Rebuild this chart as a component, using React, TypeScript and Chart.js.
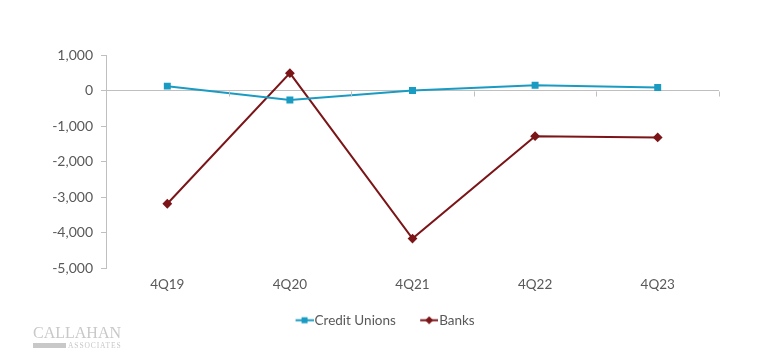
import React, { useEffect, useRef } from "react";
import { Chart, registerables } from "chart.js";

Chart.register(...registerables);

const categories = ["4Q19", "4Q20", "4Q21", "4Q22", "4Q23"];
const creditUnions = [125, -265, 5, 150, 85];
const banks = [-3180, 490, -4160, -1280, -1315];
const yMin = -5000;
const yMax = 1000;
const yStep = 1000;

const CU_COLOR = "#1a9bc2";
const BANK_COLOR = "#7b1518";
const AXIS_COLOR = "#bfbfbf";
const TEXT_COLOR = "#595959";
const FONT = "Lato, 'Noto Sans', sans-serif";

function legendIcon(color: string, style: "rect" | "diamond") {
  const W = 37;
  const c = document.createElement("canvas");
  c.width = W;
  c.height = 9;
  const ctx = c.getContext("2d")!;
  ctx.strokeStyle = color;
  ctx.lineWidth = 2;
  ctx.beginPath();
  ctx.moveTo(W - 18, 4.5);
  ctx.lineTo(W, 4.5);
  ctx.stroke();
  ctx.fillStyle = color;
  const cx = W - 9;
  if (style === "rect") {
    ctx.fillRect(cx - 3, 1.5, 6, 6);
  } else {
    ctx.beginPath();
    ctx.moveTo(cx, 0.5);
    ctx.lineTo(cx + 4, 4.5);
    ctx.lineTo(cx, 8.5);
    ctx.lineTo(cx - 4, 4.5);
    ctx.closePath();
    ctx.fill();
  }
  return c;
}

const zeroTicksPlugin = {
  id: "zeroTicks",
  afterDatasetsDraw(chart: any) {
    const { ctx, scales, chartArea } = chart;
    const x = scales.x;
    const y = scales.y;
    const y0 = Math.round(y.getPixelForValue(0)) + 0.5;
    const n = categories.length;
    const bounds: number[] = [chartArea.left];
    for (let i = 1; i < n; i++) {
      bounds.push((x.getPixelForValue(i - 1) + x.getPixelForValue(i)) / 2);
    }
    bounds.push(chartArea.right);
    ctx.save();
    ctx.strokeStyle = AXIS_COLOR;
    ctx.lineWidth = 1;
    ctx.beginPath();
    for (const b of bounds) {
      const bx = Math.round(b) + 0.5;
      ctx.moveTo(bx, y0);
      ctx.lineTo(bx, y0 + 5);
    }
    ctx.stroke();
    ctx.restore();
  },
};

export default function App() {
  const ref = useRef<HTMLCanvasElement>(null);

  useEffect(() => {
    document.body.style.margin = "0";
    const chart = new Chart(ref.current!, {
      type: "line",
      data: {
        labels: categories,
        datasets: [
          {
            label: "Credit Unions",
            data: creditUnions,
            borderColor: CU_COLOR,
            backgroundColor: CU_COLOR,
            borderWidth: 2,
            pointStyle: "rect",
            pointRadius: 3.5,
            pointHoverRadius: 3.5,
            tension: 0,
          },
          {
            label: "Banks",
            data: banks,
            borderColor: BANK_COLOR,
            backgroundColor: BANK_COLOR,
            borderWidth: 2,
            pointStyle: "rectRot",
            pointRadius: 3.5,
            pointHoverRadius: 3.5,
            tension: 0,
          },
        ],
      },
      options: {
        responsive: false,
        animation: false,
        layout: { padding: { left: 38, right: 49, top: 55, bottom: 19 } },
        plugins: {
          tooltip: { enabled: false },
          legend: {
            position: "bottom",
            labels: {
              usePointStyle: true,
              pointStyleWidth: 25.5,
              color: TEXT_COLOR,
              font: { family: FONT, size: 13.5 },
              padding: 11,
              generateLabels: (chart: any) =>
                chart.data.datasets.map((ds: any, i: number) => ({
                  text: ds.label,
                  pointStyle: legendIcon(ds.borderColor, i === 0 ? "rect" : "diamond"),
                  fontColor: TEXT_COLOR,
                  datasetIndex: i,
                  hidden: false,
                  lineWidth: 0,
                })),
            },
          },
        },
        scales: {
          x: {
            offset: true,
            grid: { display: false },
            border: { display: false },
            ticks: {
              color: TEXT_COLOR,
              font: { family: FONT, size: 13.5 },
              padding: 0,
            },
            afterFit: (s: any) => {
              s.height = 34;
            },
          },
          y: {
            min: yMin,
            max: yMax,
            ticks: {
              stepSize: yStep,
              color: TEXT_COLOR,
              font: { family: FONT, size: 14 },
              padding: 8,
              callback: (v: any) => Number(v).toLocaleString("en-US"),
            },
            grid: {
              drawOnChartArea: true,
              color: (c: any) => (c.tick && c.tick.value === 0 ? AXIS_COLOR : "rgba(0,0,0,0)"),
              tickColor: AXIS_COLOR,
              tickLength: 5,
            },
            border: { display: true, color: AXIS_COLOR },
            afterFit: (s: any) => {
              s.width = 68;
            },
          },
        },
      },
      plugins: [zeroTicksPlugin],
    });
    return () => chart.destroy();
  }, []);

  return (
    <div style={{ position: "relative", width: 768, height: 356, background: "#fff" }}>
      <canvas ref={ref} width={768} height={356} style={{ display: "block" }} />
      <div style={{ position: "absolute", left: 33, top: 325, width: 95 }}>
        <div
          style={{
            fontFamily: "'Liberation Serif', 'DejaVu Serif', serif",
            fontSize: 16,
            lineHeight: "16px",
            color: "#c8c8c8",
            letterSpacing: 0,
          }}
        >
          CALLAHAN
        </div>
        <div style={{ display: "flex", alignItems: "center", marginTop: 1 }}>
          <div style={{ width: 33, height: 5, background: "#c8c8c8" }} />
          <div
            style={{
              fontFamily: "'Liberation Serif', serif",
              fontSize: 7.5,
              lineHeight: "7px",
              color: "#c8c8c8",
              marginLeft: 2,
              letterSpacing: 0.9,
              whiteSpace: "nowrap",
            }}
          >
            ASSOCIATES
          </div>
        </div>
      </div>
    </div>
  );
}
